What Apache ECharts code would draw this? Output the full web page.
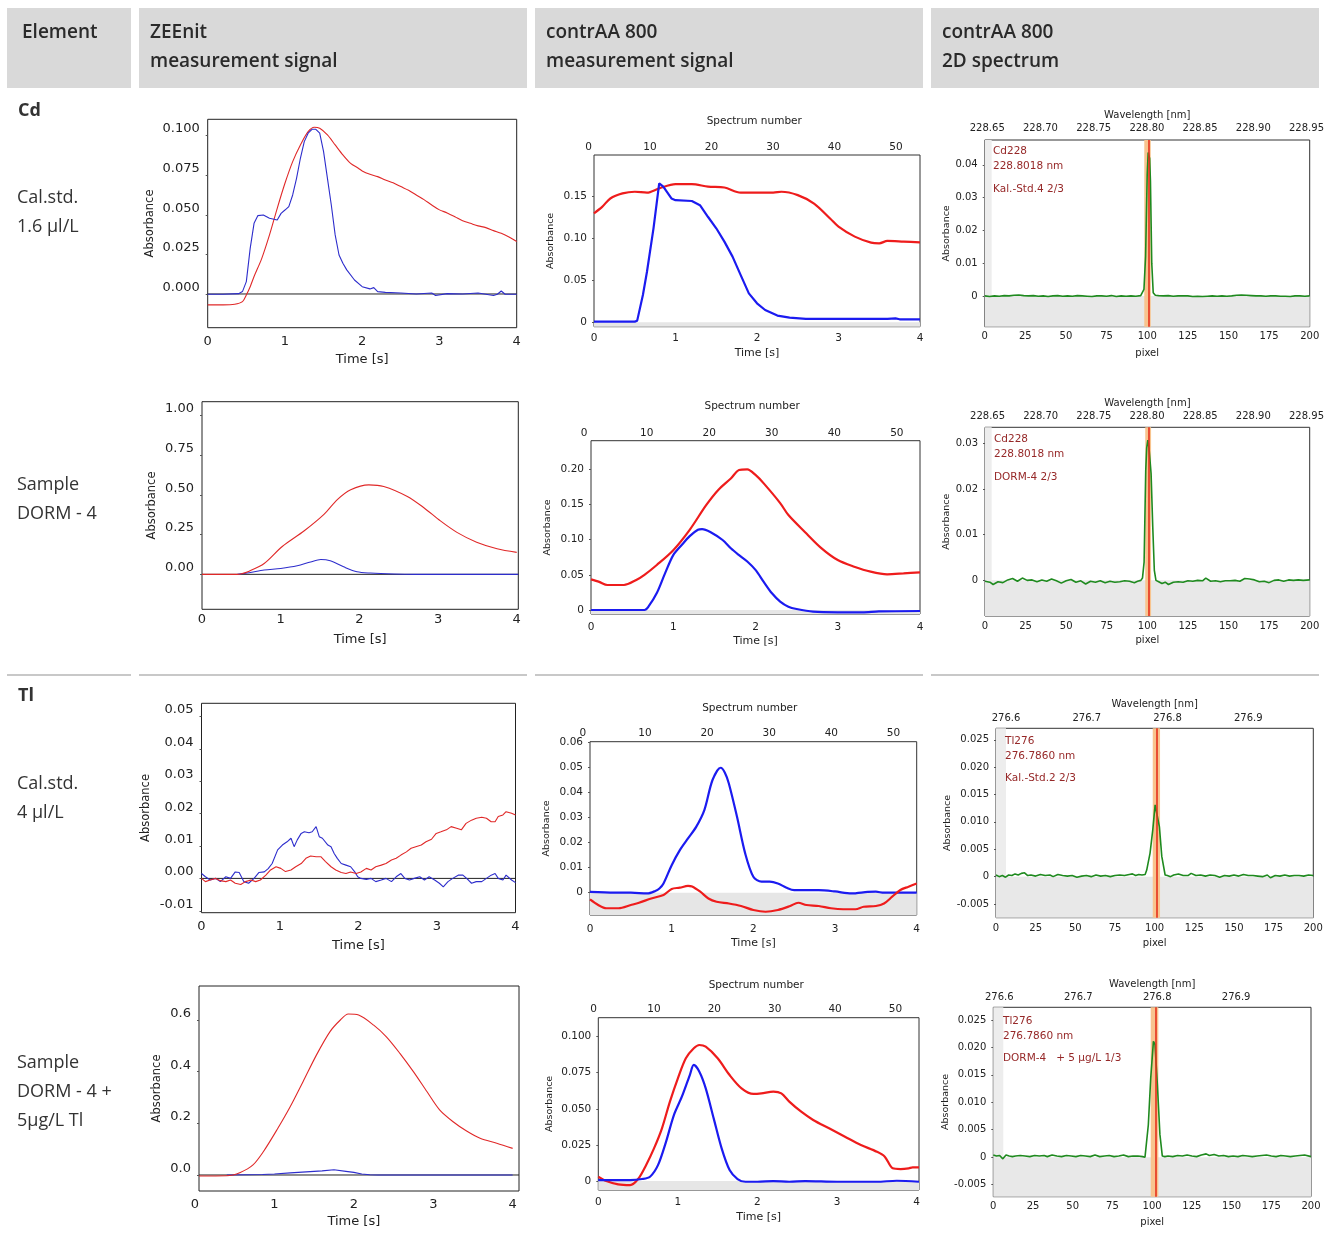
<!DOCTYPE html>
<html><head><meta charset="utf-8">
<script src="https://cdn.jsdelivr.net/npm/echarts@6/dist/echarts.min.js"></script>
<style>html,body{margin:0;padding:0;background:#fff}#c{width:1327px;height:1242px}</style>
</head><body><div id="c"></div><script>
// ---------------- tick labels ----------------
const timeTicks = [0, 1, 2, 3, 4];
const spectrumTicks = [0, 10, 20, 30, 40, 50];
const pixelTicks = [0, 25, 50, 75, 100, 125, 150, 175, 200];
const cdWaveTicks = [228.65, 228.70, 228.75, 228.80, 228.85, 228.90, 228.95];
const tlWaveTicks = [276.6, 276.7, 276.8, 276.9];
const cdCalZeeYTicks = [0, 0.025, 0.05, 0.075, 0.1];
const cdSamZeeYTicks = [0, 0.25, 0.5, 0.75, 1.0];
const tlCalZeeYTicks = [-0.01, 0, 0.01, 0.02, 0.03, 0.04, 0.05];
const tlSamZeeYTicks = [0, 0.2, 0.4, 0.6];
const cdCalAAYTicks = [0, 0.05, 0.10, 0.15];
const cdSamAAYTicks = [0, 0.05, 0.10, 0.15, 0.20];
const tlCalAAYTicks = [0, 0.01, 0.02, 0.03, 0.04, 0.05, 0.06];
const tlSamAAYTicks = [0, 0.025, 0.05, 0.075, 0.1];
const cdCalSpecYTicks = [0, 0.01, 0.02, 0.03, 0.04];
const cdSamSpecYTicks = [0, 0.01, 0.02, 0.03];
const tlSpecYTicks = [-0.005, 0, 0.005, 0.01, 0.015, 0.02, 0.025];

// ---------------- ZEEnit signals [time s, absorbance] ----------------
const cdCalZeeRed = [[0,-0.0069],[0.2,-0.0069],[0.35,-0.0065],[0.45,-0.0048],[0.5,-0.0006],[0.55,0.0046],[0.6,0.011],[0.7,0.0225],[0.8,0.0373],[0.9,0.0541],[1.0,0.0699],[1.1,0.0836],[1.2,0.0941],[1.3,0.1025],[1.38,0.1053],[1.45,0.1046],[1.55,0.1004],[1.65,0.0941],[1.75,0.0878],[1.85,0.0825],[1.95,0.0794],[2.0,0.0777],[2.1,0.0756],[2.2,0.0741],[2.3,0.072],[2.4,0.0702],[2.5,0.0678],[2.6,0.0655],[2.7,0.0625],[2.8,0.0596],[2.9,0.0562],[3.0,0.0531],[3.1,0.0512],[3.2,0.0488],[3.3,0.0462],[3.4,0.0446],[3.5,0.043],[3.6,0.0419],[3.7,0.04],[3.8,0.0383],[3.9,0.036],[4.0,0.0331]];
const cdCalZeeBlue = [[0,-0.0002],[0.2,-0.0002],[0.4,0.0002],[0.45,0.0015],[0.5,0.0078],[0.55,0.0288],[0.6,0.0446],[0.65,0.0495],[0.72,0.0499],[0.8,0.0478],[0.9,0.0467],[0.95,0.0509],[1.0,0.053],[1.05,0.0552],[1.1,0.0625],[1.15,0.073],[1.2,0.0857],[1.25,0.0962],[1.3,0.1015],[1.35,0.104],[1.4,0.104],[1.45,0.1015],[1.5,0.0899],[1.55,0.073],[1.6,0.0562],[1.65,0.0373],[1.7,0.0246],[1.75,0.0194],[1.8,0.0152],[1.9,0.0088],[2.0,0.0046],[2.1,0.0032],[2.15,0.004],[2.2,0.0015],[2.3,0.001],[2.5,0.0006],[2.7,0],[2.9,0.0006],[2.95,-0.001],[3.1,0.0002],[3.3,0],[3.5,0.0006],[3.7,-0.001],[3.75,-0.0002],[3.8,0.0019],[3.85,-0.0002],[4.0,-0.0002]];
const cdSamZeeRed = [[0,0],[0.45,0],[0.49,0.002],[0.6,0.02],[0.79,0.068],[1.02,0.175],[1.3,0.274],[1.55,0.377],[1.72,0.47],[1.89,0.532],[2.12,0.563],[2.31,0.553],[2.61,0.49],[2.82,0.419],[3.03,0.336],[3.24,0.264],[3.49,0.202],[3.75,0.161],[4.0,0.138]];
const cdSamZeeBlue = [[0.45,0],[0.6,0.01],[0.79,0.027],[1.0,0.037],[1.21,0.054],[1.38,0.078],[1.51,0.093],[1.63,0.085],[1.8,0.047],[1.97,0.016],[2.14,0.008],[2.44,0.002],[2.7,0],[4.02,0]];
const tlCalZeeBlue = [[0,0.0015],[0.05,0.0005],[0.11,-0.0005],[0.18,0],[0.24,-0.001],[0.31,0.0005],[0.37,0],[0.43,0.002],[0.48,0.0018],[0.54,-0.001],[0.6,-0.0015],[0.67,0],[0.73,0.0018],[0.8,0.002],[0.85,0.003],[0.9,0.0046],[0.97,0.0088],[1.03,0.0103],[1.09,0.0113],[1.14,0.0124],[1.18,0.0098],[1.22,0.0119],[1.27,0.0139],[1.31,0.0144],[1.37,0.0141],[1.41,0.0144],[1.46,0.016],[1.5,0.0129],[1.54,0.0124],[1.61,0.0103],[1.65,0.0098],[1.69,0.0077],[1.73,0.0062],[1.78,0.0046],[1.84,0.0041],[1.9,0.0036],[1.95,0.0021],[1.99,0.0005],[2.03,0],[2.1,-0.0003],[2.16,0],[2.22,-0.001],[2.29,-0.0005],[2.35,0],[2.42,-0.001],[2.48,0.0005],[2.54,0.0015],[2.59,0],[2.65,-0.0005],[2.71,0],[2.78,0.0005],[2.84,-0.0005],[2.9,0.0005],[2.97,-0.0005],[3.03,-0.0015],[3.08,-0.0026],[3.14,-0.001],[3.2,0],[3.27,0.001],[3.33,0.001],[3.4,-0.0005],[3.44,-0.0015],[3.5,-0.001],[3.57,-0.001],[3.63,0],[3.69,0.001],[3.74,0.0015],[3.78,0],[3.84,-0.0005],[3.88,0.001],[3.95,-0.0005],[4.0,-0.0013]];
const tlCalZeeRed = [[0,0],[0.05,-0.001],[0.11,-0.0005],[0.18,0],[0.24,-0.0007],[0.31,-0.001],[0.37,-0.0005],[0.43,-0.0015],[0.5,-0.0019],[0.56,-0.001],[0.63,-0.0005],[0.69,-0.001],[0.75,-0.0005],[0.82,0.001],[0.88,0.0026],[0.95,0.0036],[1.01,0.0031],[1.07,0.0021],[1.14,0.0026],[1.2,0.0036],[1.27,0.0046],[1.33,0.0062],[1.39,0.0069],[1.46,0.0067],[1.52,0.0067],[1.58,0.0052],[1.65,0.0036],[1.71,0.0026],[1.78,0.0018],[1.84,0.0015],[1.9,0.002],[1.97,0.0015],[2.03,0.002],[2.1,0.0031],[2.16,0.0026],[2.22,0.0036],[2.29,0.0041],[2.35,0.0046],[2.42,0.0057],[2.48,0.0062],[2.54,0.0072],[2.61,0.0082],[2.67,0.0093],[2.73,0.0098],[2.8,0.0103],[2.86,0.0113],[2.93,0.0121],[2.99,0.0139],[3.05,0.0144],[3.12,0.015],[3.18,0.016],[3.25,0.0155],[3.31,0.015],[3.37,0.017],[3.44,0.018],[3.5,0.0186],[3.57,0.0189],[3.63,0.0186],[3.69,0.0175],[3.74,0.0175],[3.78,0.0191],[3.84,0.0196],[3.88,0.0206],[3.95,0.0201],[4.0,0.0196]];
const tlSamZeeRed = [[0.05,-0.004],[0.4,-0.003],[0.57,0.01],[0.73,0.039],[0.86,0.09],[1.03,0.174],[1.2,0.265],[1.36,0.361],[1.53,0.465],[1.7,0.555],[1.83,0.6],[1.93,0.623],[2.06,0.619],[2.25,0.58],[2.41,0.535],[2.58,0.471],[2.75,0.4],[2.92,0.323],[3.08,0.252],[3.25,0.206],[3.42,0.17],[3.59,0.142],[3.8,0.123],[4.0,0.103]];
const tlSamZeeBlue = [[0.4,0],[0.85,0.002],[1.0,0.004],[1.2,0.008],[1.4,0.012],[1.6,0.016],[1.75,0.02],[1.9,0.014],[2.0,0.01],[2.1,0.004],[2.2,0.001],[2.3,0],[4.0,0]];

// ---------------- contrAA 800 signals [time s, absorbance] ----------------
const cdCalAARed = [[0,0.1294],[0.1,0.137],[0.2,0.147],[0.35,0.153],[0.5,0.155],[0.65,0.154],[0.8,0.159],[1.0,0.164],[1.2,0.164],[1.4,0.161],[1.6,0.16],[1.8,0.154],[2.0,0.154],[2.2,0.154],[2.3,0.155],[2.5,0.151],[2.7,0.141],[2.9,0.123],[3.0,0.1136],[3.2,0.1017],[3.4,0.0946],[3.5,0.0938],[3.6,0.0966],[3.8,0.0958],[4.0,0.095]];
const cdCalAABlue = [[0,0.0008],[0.5,0.0008],[0.53,0.002],[0.6,0.0324],[0.65,0.06],[0.73,0.1116],[0.8,0.165],[0.85,0.161],[0.95,0.147],[1.0,0.145],[1.2,0.144],[1.3,0.139],[1.4,0.125],[1.5,0.1116],[1.6,0.0958],[1.7,0.078],[1.8,0.056],[1.9,0.0344],[2.0,0.0226],[2.1,0.0146],[2.25,0.008],[2.4,0.0055],[2.6,0.004],[3.0,0.004],[3.6,0.004],[3.7,0.0047],[3.75,0.0036],[4.0,0.0036]];
const cdSamAARed = [[0,0.0436],[0.1,0.04],[0.2,0.0355],[0.4,0.0355],[0.55,0.0427],[0.65,0.05],[0.8,0.064],[1.0,0.085],[1.2,0.114],[1.4,0.149],[1.55,0.171],[1.7,0.187],[1.8,0.199],[1.9,0.2],[2.0,0.192],[2.1,0.18],[2.3,0.152],[2.4,0.135],[2.6,0.111],[2.8,0.088],[3.0,0.071],[3.2,0.0616],[3.4,0.0545],[3.6,0.0507],[3.8,0.052],[4.0,0.0536]];
const cdSamAABlue = [[0,0],[0.65,0],[0.7,0.005],[0.8,0.024],[0.9,0.052],[1.0,0.078],[1.1,0.092],[1.2,0.105],[1.3,0.114],[1.35,0.115],[1.45,0.111],[1.6,0.0995],[1.7,0.0877],[1.8,0.078],[1.9,0.069],[2.0,0.057],[2.1,0.04],[2.2,0.0237],[2.3,0.012],[2.4,0.0047],[2.5,0.0014],[2.7,-0.0024],[3.0,-0.0033],[3.3,-0.0033],[3.5,-0.002],[4.0,-0.0014]];
const tlCalAABlue = [[0,0.0003],[0.3,0],[0.5,0],[0.7,-0.0003],[0.8,0.0007],[0.85,0.0017],[0.9,0.0037],[1.0,0.011],[1.1,0.017],[1.2,0.0217],[1.3,0.0263],[1.4,0.033],[1.5,0.045],[1.6,0.0499],[1.65,0.048],[1.7,0.0436],[1.8,0.0303],[1.9,0.0157],[2.0,0.0064],[2.1,0.0044],[2.2,0.0044],[2.3,0.0037],[2.4,0.0021],[2.5,0.001],[2.8,0.001],[3.0,0.0005],[3.2,-0.0003],[3.4,0.0003],[3.5,0.0004],[3.6,0],[4.0,0]];
const tlCalAARed = [[0,-0.0027],[0.1,-0.0049],[0.2,-0.0062],[0.35,-0.0062],[0.5,-0.0049],[0.6,-0.004],[0.75,-0.0023],[0.9,-0.0009],[1.0,0.0015],[1.1,0.002],[1.2,0.0027],[1.25,0.0025],[1.35,0.0004],[1.45,-0.0023],[1.55,-0.0036],[1.7,-0.0043],[1.85,-0.0053],[2.0,-0.0069],[2.15,-0.0076],[2.3,-0.0069],[2.45,-0.0053],[2.55,-0.004],[2.65,-0.0049],[2.8,-0.0053],[2.95,-0.0062],[3.1,-0.0066],[3.25,-0.0066],[3.35,-0.0056],[3.5,-0.0053],[3.6,-0.0043],[3.7,-0.0016],[3.8,0.0011],[3.9,0.0024],[4.0,0.0037]];
const tlSamAARed = [[0,0.003],[0.1,0],[0.25,-0.0023],[0.4,-0.0028],[0.5,0.0014],[0.6,0.011],[0.7,0.0226],[0.8,0.0365],[0.9,0.055],[1.0,0.0711],[1.1,0.085],[1.2,0.0919],[1.27,0.0942],[1.35,0.093],[1.5,0.085],[1.65,0.0734],[1.8,0.0642],[1.95,0.0603],[2.05,0.0607],[2.2,0.0619],[2.3,0.0607],[2.4,0.055],[2.55,0.048],[2.7,0.0423],[2.9,0.0365],[3.1,0.0307],[3.3,0.025],[3.5,0.0203],[3.6,0.0169],[3.7,0.0088],[3.8,0.0083],[3.9,0.0088],[3.95,0.0095],[4.03,0.0095]];
const tlSamAABlue = [[0,0.0007],[0.4,0.0007],[0.55,0.0014],[0.65,0.003],[0.75,0.011],[0.85,0.027],[0.95,0.0457],[1.05,0.0584],[1.15,0.0734],[1.2,0.0804],[1.27,0.0757],[1.35,0.0642],[1.45,0.0434],[1.55,0.0226],[1.65,0.0076],[1.75,0.0014],[1.85,-0.0005],[2.0,-0.0005],[2.2,0],[2.4,-0.0005],[2.6,0],[3.0,-0.0005],[3.5,-0.0005],[3.75,0.0002],[4.03,-0.0005]];

// ---------------- 2D spectra [pixel, absorbance] ----------------
const cdCalSpec = [[0,0],[3,-0.0002],[6,0],[9,-0.0001],[12,0.0001],[15,0],[18,0.0002],[21,0.0003],[24,0.0001],[27,0],[30,0.0001],[33,-0.0001],[36,0],[39,-0.0002],[42,0],[45,0.0001],[48,-0.0001],[51,0],[54,-0.0001],[57,0.0001],[60,0],[63,-0.0001],[66,-0.0002],[69,0],[72,0],[75,-0.0001],[78,0.0001],[81,-0.0002],[84,0],[87,-0.0001],[90,0],[93,-0.0001],[96,0.0001],[97,0.0003],[98,0.002],[99,0.012],[100,0.037],[100.6,0.0438],[101.5,0.042],[102,0.035],[102.8,0.01],[103.7,0.001],[105,0.0002],[107,0.0001],[110,0],[113,0.0001],[116,-0.0001],[119,0],[122,0],[125,0],[128,-0.0002],[131,-0.0001],[134,-0.0002],[137,-0.0001],[140,0],[143,-0.0001],[146,0],[149,-0.0001],[152,0],[155,0.0002],[158,0.0003],[161,0.0002],[164,0.0001],[167,0],[170,0],[173,-0.0001],[176,0],[179,0],[182,-0.0001],[185,-0.0001],[188,-0.0002],[191,0],[194,0],[197,-0.0001],[200,0]];
const cdSamSpec = [[0,-0.0002],[3,-0.0004],[5,-0.0009],[8,-0.0003],[11,-0.0005],[14,0.0001],[17,0.0004],[20,-0.0002],[23,0.0005],[26,0],[29,0.0001],[32,-0.0003],[35,0.0001],[38,-0.0002],[41,0.0003],[44,-0.0001],[47,-0.0006],[50,-0.0001],[53,0.0002],[56,-0.0004],[59,-0.0001],[62,-0.0008],[65,-0.0002],[68,-0.0004],[71,-0.0001],[74,-0.0005],[77,-0.0002],[80,-0.0004],[83,-0.0003],[86,-0.0001],[89,-0.0002],[92,-0.0005],[94,-0.0002],[96,0],[97,0.0005],[98,0.004],[99,0.024],[99.6,0.029],[100.3,0.0307],[101,0.029],[102.3,0.0234],[103.3,0.012],[104.3,0.0022],[105.3,0],[107,-0.0003],[109,-0.0007],[111,-0.0004],[113,-0.0009],[116,-0.0004],[119,-0.0003],[122,-0.0004],[125,-0.0001],[128,-0.0002],[131,0],[134,-0.0001],[136,0.0005],[139,-0.0002],[142,-0.0001],[145,-0.0003],[148,-0.0001],[151,-0.0001],[154,0],[157,-0.0002],[160,0.0004],[163,0.0003],[166,0.0001],[169,-0.0003],[172,-0.0002],[175,-0.0005],[178,0],[181,0.0001],[184,-0.0002],[187,0.0001],[190,0],[193,0.0001],[196,0],[200,0.0001]];
const tlCalSpec = [[0,0.0003],[2,0],[4,0.0002],[6,-0.0001],[8,0.0003],[10,0.0002],[12,0.0005],[14,0.0003],[16,0.0006],[18,0.0007],[20,0.0002],[22,0.0003],[25,0.0001],[28,0.0004],[31,0.0002],[34,0.0003],[36,0],[39,0.0004],[42,0.0002],[45,0.0001],[48,0.0002],[51,-0.0001],[54,0.0001],[57,0.0002],[60,0],[63,0.0003],[66,0.0001],[69,0.0002],[72,0],[75,0.0002],[78,0.0003],[81,0.0002],[84,0.0004],[86,0.0005],[88,0.0002],[90,0.0004],[92,0.0003],[94,0.0004],[95,0.0012],[97.1,0.0043],[98.8,0.0085],[100.3,0.0131],[101.3,0.0134],[103,0.0091],[104.5,0.0037],[106.6,0.0003],[108,0.0002],[110,0],[112,0.0003],[115,0.0005],[118,0.0002],[121,0.0002],[123,0.0006],[126,0.0002],[129,0.0003],[132,0.0001],[135,0.0003],[138,0.0002],[141,-0.0001],[144,0.0002],[147,0.0001],[150,0.0003],[153,0.0001],[156,0.0004],[159,0.0002],[162,0.0002],[165,0.0001],[168,0],[171,0.0003],[173,-0.0002],[176,0.0002],[179,0.0001],[182,0.0003],[185,0.0001],[188,0.0002],[191,0.0002],[194,0.0001],[197,0.0003],[200,0.0002]];
const tlSamSpec = [[0,0.0004],[2,0.0002],[4,0.0003],[6,-0.0003],[8,0.0004],[10,0.0002],[12,0.0001],[14,0.0002],[17,0.0003],[20,0.0002],[23,0.0001],[26,0.0003],[29,0.0002],[32,0.0003],[34,0.0001],[37,0.0004],[40,0.0002],[43,0.0001],[46,0.0003],[49,0.0002],[52,0.0001],[55,0.0003],[58,0.0002],[61,0.0001],[64,0.0004],[67,0.0001],[70,0.0002],[73,0.0003],[76,0.0001],[79,0.0002],[82,0.0004],[85,0.0001],[88,0.0002],[91,0.0002],[94,0.0001],[95.5,0],[97.6,0.0059],[99.1,0.0144],[100.8,0.0211],[101.8,0.0205],[103.3,0.0132],[104.9,0.0041],[106.4,0.0002],[108,0.0001],[110,0.0002],[113,0.0001],[116,0.0003],[119,0.0002],[122,0.0004],[125,0.0002],[128,0.0001],[131,0.0004],[134,0.0006],[136,0.0003],[139,0.0005],[142,0.0002],[145,0.0003],[148,0.0001],[151,0.0002],[154,0.0001],[157,0.0003],[160,0.0002],[163,0.0001],[166,0.0002],[169,0.0003],[172,0.0004],[175,0.0002],[178,0.0001],[181,0.0003],[184,0.0002],[187,0.0001],[190,0.0002],[193,0.0003],[196,0.0004],[200,0.0001]];
// evaluation window [from pixel, to pixel], centre line pixel, and left masked pixels
const cdCalWindow = [98.2, 102.2], cdCalCentre = 101.2;
const cdSamWindow = [98.7, 102.3], cdSamCentre = 101.1;
const tlCalWindow = [98.8, 103.4], tlCalCentre = 101.5;
const tlSamWindow = [99.1, 103.9], tlSamCentre = 102.2;
const cdCalMasked = 4.3, cdSamMasked = 4.1, tlCalMasked = 6.3, tlSamMasked = 6.3;
const cdCalNotes = ['Cd228', '228.8018 nm', 'Kal.-Std.4 2/3'];
const cdSamNotes = ['Cd228', '228.8018 nm', 'DORM-4 2/3'];
const tlCalNotes = ['Tl276', '276.7860 nm', 'Kal.-Std.2 2/3'];
const tlSamNotes = ['Tl276', '276.7860 nm', 'DORM-4   + 5 µg/L 1/3'];

// ---------------- layout ----------------
const RED_Z = '#e02828', BLUE_Z = '#2d2dcc', RED_A = '#ee1c1c', BLUE_A = '#1b1bf0', GREEN = '#1f8a1f';
const panels = [
  {kind:'zee', box:[207.7,119.3,516.7,327.7], x:[0,4], y:[-0.0213,0.1103], yt:cdCalZeeYTicks, dec:3, zero:'0.000',
   lines:[[cdCalZeeRed,RED_Z,0.3],[cdCalZeeBlue,BLUE_Z,0]], xlm:7.5, xng:25, yng:52},
  {kind:'aa', box:[594,155,920,326.7], x:[0,4], y:[-0.0052,0.1986], yt:cdCalAAYTicks, dec:2, zero:'0',
   top:{left:588.5, min:0, max:53.9}, tlm:2.5, tng:28, lines:[[cdCalAARed,RED_A,0.3],[cdCalAABlue,BLUE_A,0]], xlm:6.3, xng:21, yng:38},
  {kind:'spec', box:[984.7,140,1313.3,326.7], x:[0,200], y:[-0.0094,0.0476], yt:cdCalSpecYTicks, dec:2, zero:'0',
   top:{min:228.6476, max:228.953}, topTicks:cdWaveTicks, topDec:2, tlm:6.7, tng:20, spec:cdCalSpec, win:cdCalWindow, centre:cdCalCentre, mask:cdCalMasked,
   notes:cdCalNotes, noteX:993, noteY:[151,166,189], xlm:5, xng:21.5, yng:33},

  {kind:'zee', box:[202,401.7,518.3,609.3], x:[0,4.02], y:[-0.22,1.086], yt:cdSamZeeYTicks, dec:2, zero:'0.00',
   lines:[[cdSamZeeBlue,BLUE_Z,0.3],[cdSamZeeRed,RED_Z,0.3]], xlm:4, xng:23.5, yng:44},
  {kind:'aa', box:[591,440.7,920,614], x:[0,4], y:[-0.0057,0.2407], yt:cdSamAAYTicks, dec:2, zero:'0',
   top:{left:584.2, min:0, max:53.7}, tlm:2.2, tng:28.7, lines:[[cdSamAARed,RED_A,0.3],[cdSamAABlue,BLUE_A,0.3]], xlm:7.4, xng:22, yng:38},
  {kind:'spec', box:[985,427.3,1312.7,616], x:[0,200], y:[-0.0078,0.0335], yt:cdSamSpecYTicks, dec:2, zero:'0',
   top:{min:228.6476, max:228.953}, topTicks:cdWaveTicks, topDec:2, tlm:5.6, tng:19, spec:cdSamSpec, win:cdSamWindow, centre:cdSamCentre, mask:cdSamMasked,
   notes:cdSamNotes, noteX:994, noteY:[439,454,477], xlm:5.7, xng:19.7, yng:33},

  {kind:'zee', box:[201.5,703.3,515.5,912.7], x:[0,4], y:[-0.0106,0.0541], yt:tlCalZeeYTicks, dec:2, zero:'0.00',
   lines:[[tlCalZeeBlue,BLUE_Z,0],[tlCalZeeRed,RED_Z,0]], xlm:7.5, xng:26, yng:49},
  {kind:'aa', box:[590,741.7,916.7,915], x:[0,4], y:[-0.0089,0.0603], yt:tlCalAAYTicks, dec:2, zero:'0',
   top:{left:582.9, min:0, max:53.75}, tlm:3, tng:28, lines:[[tlCalAABlue,BLUE_A,0.3],[tlCalAARed,RED_A,0.3]], xlm:9, xng:22.8, yng:38},
  {kind:'spec', box:[996,728.3,1313.3,917.7], x:[0,200], y:[-0.0075,0.0271], yt:tlSpecYTicks, dec:3, zero:'0',
   top:{min:276.5876, max:276.9805}, topTicks:tlWaveTicks, topDec:1, tlm:5, tng:19.3, spec:tlCalSpec, win:tlCalWindow, centre:tlCalCentre, mask:tlCalMasked,
   notes:tlCalNotes, noteX:1005, noteY:[741,756,778], xlm:5.6, xng:20.6, yng:43},

  {kind:'zee', box:[199,986,519,1191], x:[0.05,4.08], xlab:{left:195, right:512.7, min:0, max:4}, y:[-0.062,0.7316], yt:tlSamZeeYTicks, dec:1, zero:'0.0',
   lines:[[tlSamZeeBlue,BLUE_Z,0],[tlSamZeeRed,RED_Z,0.3]], xlm:7.5, xng:24, yng:36},
  {kind:'aa', box:[598.3,1017.7,919,1190], x:[0,4.03], y:[-0.0062,0.1131], yt:tlSamAAYTicks, dec:3, zero:'0',
   top:{left:593.6, min:0, max:53.9}, tlm:2.5, tng:27.4, lines:[[tlSamAARed,RED_A,0.3],[tlSamAABlue,BLUE_A,0.3]], xlm:6.4, xng:22, yng:44},
  {kind:'spec', box:[993.3,1007.3,1311,1196.7], x:[0,200], y:[-0.0072,0.0273], yt:tlSpecYTicks, dec:3, zero:'0',
   top:{min:276.5924, max:276.9948}, topTicks:tlWaveTicks, topDec:1, tlm:4.6, tng:18, spec:tlSamSpec, win:tlSamWindow, centre:tlSamCentre, mask:tlSamMasked,
   notes:tlSamNotes, noteX:1003, noteY:[1021,1036,1058], xlm:5, xng:20.6, yng:42}
];

const AXF = 'DejaVu Sans';
const grids = [], extraGrids = [], xAxes = [], yAxes = [], series = [], graphics = [];
const NP = panels.length;
function addLabelGrid(left, right, top, bottom) {
  const gi = NP + extraGrids.length;
  extraGrids.push({left, top, width:right - left, height:bottom - top, show:false});
  yAxes.push({type:'value', gridIndex:gi, show:false, min:0, max:1});
  return gi;
}
panels.forEach((p, gi) => {
  const [l, t, r, b] = p.box;
  const zee = p.kind === 'zee', aa = p.kind === 'aa', sp = p.kind === 'spec';
  const fs = zee ? 13 : (aa ? 10.5 : 10);
  grids.push({left:l, top:t, width:r - l, height:b - t, show:true, backgroundColor:'#fff',
    borderColor: zee ? '#222' : '#333', borderWidth:1});
  const bottomLabel = {type:'value', position:'bottom',
    axisLine:{show:false}, axisTick:{show:false}, splitLine:{show:false},
    axisLabel:{customValues: sp ? pixelTicks : timeTicks, formatter:v => String(v), fontFamily:AXF, fontSize:fs, color:'#222', margin:p.xlm},
    name: sp ? 'pixel' : 'Time [s]', nameLocation:'middle', nameGap:p.xng,
    nameTextStyle:{fontFamily:AXF, fontSize: zee ? 13 : (aa ? 11 : 10), color:'#222'}};
  const xi = xAxes.length;
  if (p.xlab) {
    xAxes.push({type:'value', gridIndex:gi, position:'bottom', min:p.x[0], max:p.x[1], show:false});
    const lg = addLabelGrid(p.xlab.left, p.xlab.right, t, b);
    xAxes.push(Object.assign({}, bottomLabel, {gridIndex:lg, min:p.xlab.min, max:p.xlab.max}));
  } else {
    xAxes.push(Object.assign({}, bottomLabel, {gridIndex:gi, min:p.x[0], max:p.x[1]}));
  }
  if (p.top) {
    const topAxis = {type:'value', position:'top', min:p.top.min, max:p.top.max,
      axisLine:{show:false}, axisTick:{show:false}, splitLine:{show:false},
      axisLabel:{customValues: sp ? p.topTicks : spectrumTicks, formatter: v => sp ? v.toFixed(p.topDec) : String(v),
        fontFamily:AXF, fontSize:fs, color:'#222', margin:p.tlm},
      name: sp ? 'Wavelength [nm]' : 'Spectrum number', nameLocation:'middle', nameGap:p.tng,
      nameTextStyle:{fontFamily:AXF, fontSize: aa ? 10.5 : 10, color:'#222'}};
    topAxis.gridIndex = (p.top.left !== undefined) ? addLabelGrid(p.top.left, r, t, b) : gi;
    xAxes.push(topAxis);
  }
  const yi = yAxes.length;
  yAxes.push({type:'value', gridIndex:gi, position:'left', min:p.y[0], max:p.y[1],
    axisLine:{show:false}, splitLine:{show:false},
    axisTick:{show:true, length:2, customValues:p.yt, lineStyle:{color:'#555'}},
    axisLabel:{customValues:p.yt, formatter: v => Math.abs(v) < 1e-12 ? p.zero : v.toFixed(p.dec),
      fontFamily:AXF, fontSize:fs, color:'#222', margin: zee ? 8 : 7, verticalAlign: zee ? 'bottom' : 'middle'},
    name:'Absorbance', nameLocation:'middle', nameGap:p.yng, nameRotate:90,
    nameTextStyle:{fontFamily:AXF, fontSize: zee ? 11.5 : 9.5, color:'#222'}});

  if (zee) {
    series.push({type:'line', xAxisIndex:xi, yAxisIndex:yi, data:[[p.x[0],0],[p.x[1],0]], symbol:'none',
      lineStyle:{color:'#222', width:1}, silent:true});
    p.lines.forEach(([d, c, s]) => series.push({type:'line', xAxisIndex:xi, yAxisIndex:yi, data:d, symbol:'none',
      smooth:s, lineStyle:{color:c, width:1.1}, silent:true}));
  } else if (aa) {
    p.lines.forEach(([d, c, s], k) => {
      const ser = {type:'line', xAxisIndex:xi, yAxisIndex:yi, data:d, symbol:'none', smooth:s,
        lineStyle:{color:c, width:2.2}, silent:true};
      if (k === 0) ser.markArea = {silent:true, itemStyle:{color:'#e6e6e6'},
        data:[[{xAxis:p.x[0], yAxis:p.y[0]}, {xAxis:p.x[1], yAxis:0}]]};
      series.push(ser);
    });
  } else {
    series.push({type:'line', xAxisIndex:xi, yAxisIndex:yi, data:p.spec, symbol:'none',
      lineStyle:{color:GREEN, width:1.6}, silent:true,
      markArea:{silent:true, data:[
        [{xAxis:p.x[0], yAxis:p.y[0], itemStyle:{color:'#e8e8e8'}}, {xAxis:p.x[1], yAxis:0}],
        [{xAxis:p.x[0], yAxis:0, itemStyle:{color:'#ededed'}}, {xAxis:p.mask, yAxis:p.y[1]}],
        [{xAxis:p.win[0], yAxis:p.y[0], itemStyle:{color:'#f8c48e'}}, {xAxis:p.win[1], yAxis:p.y[1]}]
      ]},
      markLine:{silent:true, symbol:['none','none'], label:{show:false},
        lineStyle:{color:'#e5301c', width:1.6, type:'solid'}, data:[{xAxis:p.centre}]}
    });
    p.notes.forEach((txt, k) => graphics.push({type:'text', x:p.noteX, y:p.noteY[k], z:100,
      style:{text:txt, font:'10.5px "DejaVu Sans"', fill:'#962828', verticalAlign:'middle'}}));
  }
});

// ---------------- table frame ----------------
const HEAD = '#d9d9d9';
[[7,131],[139,527],[535,923],[931,1319]].forEach(([a, c]) => {
  graphics.push({type:'rect', shape:{x:a, y:8, width:c - a, height:80}, style:{fill:HEAD}, z:-1});
  graphics.push({type:'line', shape:{x1:a, y1:675, x2:c, y2:675}, style:{stroke:'#c8c8c8', lineWidth:2}});
});
const headFont = '600 19px "Open Sans"';
const heads = [['Element',22,33],['ZEEnit',150,33],['measurement signal',150,62],['contrAA 800',546,33],
  ['measurement signal',546,62],['contrAA 800',942,33],['2D spectrum',942,62]];
heads.forEach(([t, x, y]) => graphics.push({type:'text', x, y, style:{text:t, font:headFont, fill:'#2a2a2a', verticalAlign:'middle'}}));
const rowFont = '18px "Open Sans"', rowBold = 'bold 18px "Open Sans"';
const rows = [['Cd',18,111,1],['Cal.std.',17,198],['1.6 µl/L',17,227],['Sample',17,485],['DORM - 4',17,514],
  ['Tl',18,696,1],['Cal.std.',17,784],['4 µl/L',17,813],['Sample',17,1063],['DORM - 4 +',17,1092],['5µg/L Tl',17,1121]];
rows.forEach(([t, x, y, bold]) => graphics.push({type:'text', x, y, style:{text:t, font: bold ? rowBold : rowFont, fill:'#333', verticalAlign:'middle'}}));

const chart = echarts.init(document.getElementById('c'), null, {renderer:'canvas', width:1327, height:1242});
chart.setOption({animation:false, backgroundColor:'#fff', grid:grids.concat(extraGrids), xAxis:xAxes, yAxis:yAxes, series, graphic:graphics});
</script></body></html>
